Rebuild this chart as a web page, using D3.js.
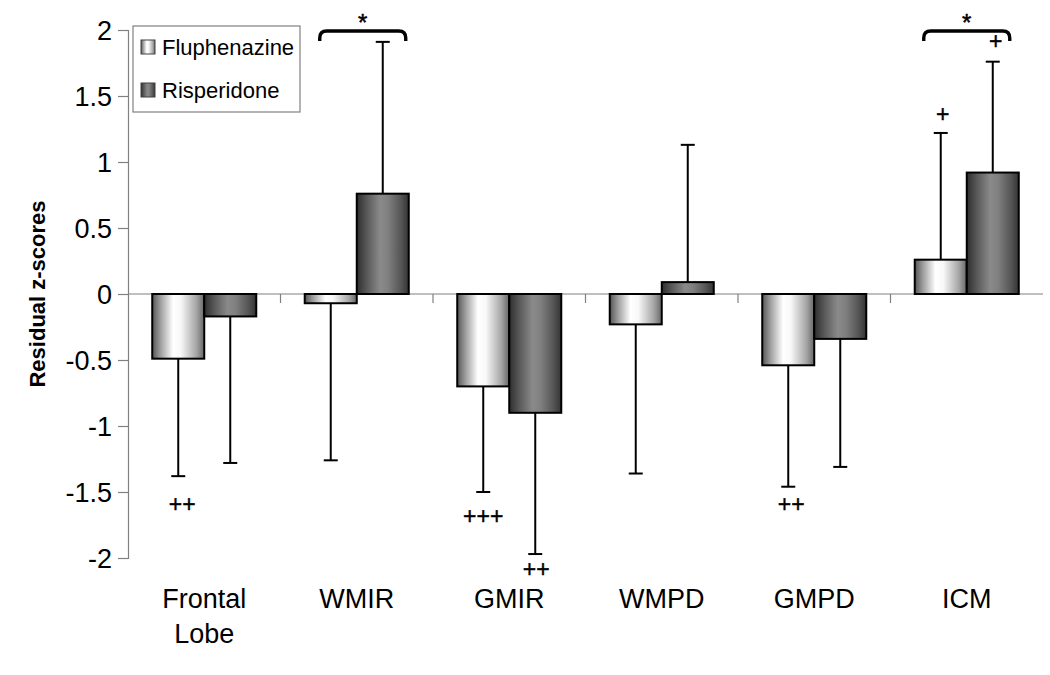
<!DOCTYPE html>
<html><head><meta charset="utf-8">
<script src="https://cdn.jsdelivr.net/npm/d3@7"></script>
<style>body{margin:0;background:#fff}svg{font-family:"Liberation Sans",Arial,sans-serif}</style>
</head><body><svg id="c" width="1050" height="675"></svg>
<script>
const categories = ["Frontal Lobe","WMIR","GMIR","WMPD","GMPD","ICM"];
const seriesNames = ["Fluphenazine","Risperidone"];
const fluphenazine = [-0.49,-0.07,-0.70,-0.23,-0.54,0.26];
const risperidone = [-0.17,0.76,-0.90,0.09,-0.34,0.92];
const fluphenazineErr = [-1.38,-1.26,-1.50,-1.36,-1.46,1.22];
const risperidoneErr = [-1.28,1.91,-1.97,1.13,-1.31,1.76];
const yTicks = [-2,-1.5,-1,-0.5,0,0.5,1,1.5,2];
// annotations: [category index, series index, label]
const marks = [[0,0,"++"],[2,0,"+++"],[2,1,"++"],[4,0,"++"],[5,0,"+"],[5,1,"+"]];
const brackets = [[1,"*"],[5,"*"]];

// layout (pixel offsets, not data)
const markOffsets = [[4,36],[0,32],[1,23],[3,25],[2,-11],[3,-13]];
const bracketShift = [6,0];

const svg = d3.select("#c");
const L = 128, R = 1043;
const y = d3.scaleLinear().domain([-2,2]).range([558,30]);
const x = d3.scaleBand().domain(categories).range([L,R]).padding(0);
const xs = d3.scaleBand().domain(seriesNames).range([0,x.bandwidth()]).paddingInner(0).paddingOuter(0.466);

const defs = svg.append("defs");
function grad(id, stops){
  const g = defs.append("linearGradient").attr("id",id).attr("x1","0%").attr("x2","100%").attr("y1","0%").attr("y2","0%");
  stops.forEach(s=>g.append("stop").attr("offset",s[0]).attr("stop-color",s[1]));
}
grad("gF",[["0%","#555555"],["15%","#9a9a9a"],["40%","#ffffff"],["55%","#f8f8f8"],["85%","#a5a5a5"],["100%","#666666"]]);
grad("gR",[["0%","#2e2e2e"],["20%","#5a5a5a"],["45%","#8a8a8a"],["60%","#808080"],["85%","#555555"],["100%","#333333"]]);
const fills = ["url(#gF)","url(#gR)"];

// y axis
const yAxis = d3.axisLeft(y).tickValues(yTicks).tickSize(10).tickPadding(6).tickFormat(d=>String(d));
const ya = svg.append("g").attr("transform",`translate(${L},0)`).call(yAxis);
ya.select(".domain").attr("stroke","#808080").attr("stroke-width",1.2);
ya.selectAll(".tick line").attr("stroke","#808080").attr("stroke-width",1.2);
ya.selectAll(".tick text").attr("font-size",27).attr("fill","#000").attr("font-family","Liberation Sans, Arial, sans-serif").attr("dy","0.36em");

svg.append("text").attr("transform","translate(45,294) rotate(-90)").attr("text-anchor","middle")
  .attr("font-size",22).attr("font-weight","bold").text("Residual z-scores");

// zero line with category ticks
svg.append("line").attr("x1",L).attr("x2",R).attr("y1",y(0)).attr("y2",y(0)).attr("stroke","#808080").attr("stroke-width",1.2);
const bounds = categories.slice(1).map(c=>x(c));
svg.selectAll(".xt").data(bounds).enter().append("line")
  .attr("x1",d=>d).attr("x2",d=>d).attr("y1",y(0)).attr("y2",y(0)+9).attr("stroke","#808080").attr("stroke-width",1.2);

// x labels
categories.forEach(c=>{
  const t = svg.append("text").attr("x",x(c)+x.bandwidth()/2).attr("y",608).attr("text-anchor","middle").attr("font-size",27);
  c.split(" ").forEach((w,i)=>t.append("tspan").attr("x",x(c)+x.bandwidth()/2).attr("dy",i?35:0).text(w));
});

const vals = [fluphenazine, risperidone];
const errs = [fluphenazineErr, risperidoneErr];

// error bars first
seriesNames.forEach((s,si)=>{
  categories.forEach((c,ci)=>{
    const cx = x(c)+xs(s)+xs.bandwidth()/2;
    const v = vals[si][ci], e = errs[si][ci];
    svg.append("line").attr("x1",cx).attr("x2",cx).attr("y1",y(v)).attr("y2",y(e)).attr("stroke","#000").attr("stroke-width",2);
    svg.append("line").attr("x1",cx-7).attr("x2",cx+7).attr("y1",y(e)).attr("y2",y(e)).attr("stroke","#000").attr("stroke-width",2);
  });
});
// bars
seriesNames.forEach((s,si)=>{
  svg.selectAll(".b"+si).data(categories).enter().append("rect")
    .attr("x",c=>x(c)+xs(s)).attr("width",xs.bandwidth())
    .attr("y",(c,i)=>y(Math.max(0,vals[si][i]))).attr("height",(c,i)=>Math.abs(y(vals[si][i])-y(0)))
    .attr("fill",fills[si]).attr("stroke","#000").attr("stroke-width",2);
});

// significance marks
marks.forEach(([ci,si,lab],k)=>{
  const cx = x(categories[ci])+xs(seriesNames[si])+xs.bandwidth()/2;
  const e = errs[si][ci];
  svg.append("text").attr("x",cx+markOffsets[k][0]).attr("y",y(e)+markOffsets[k][1]).attr("text-anchor","middle")
    .attr("font-size",23).attr("stroke","#000").attr("stroke-width",0.4).text(lab);
});

// brackets
brackets.forEach(([ci,lab],k)=>{
  const c = categories[ci];
  const cx = x(c)+x.bandwidth()/2 + bracketShift[k];
  const x0 = cx-43, x1 = cx+43;
  const top = 31, bot = 41, r = 7;
  svg.append("path").attr("d",`M${x0},${bot} L${x0},${top+r} Q${x0},${top} ${x0+r},${top} L${x1-r},${top} Q${x1},${top} ${x1},${top+r} L${x1},${bot}`)
    .attr("fill","none").attr("stroke","#000").attr("stroke-width",3.4);
  svg.append("text").attr("x",cx).attr("y",31).attr("text-anchor","middle").attr("font-size",24)
    .attr("stroke","#000").attr("stroke-width",0.5).text(lab);
});

// legend
const lg = svg.append("g");
lg.append("rect").attr("x",133).attr("y",26).attr("width",167).attr("height",86).attr("fill","#fff").attr("stroke","#808080").attr("stroke-width",1.2);
seriesNames.forEach((s,i)=>{
  const yy = 47 + i*43;
  lg.append("rect").attr("x",141).attr("y",yy-7).attr("width",14).attr("height",14).attr("fill",fills[i]).attr("stroke","#404040").attr("stroke-width",1);
  lg.append("text").attr("x",162).attr("y",yy).attr("dy","0.36em").attr("font-size",22).text(s);
});
</script></body></html>
